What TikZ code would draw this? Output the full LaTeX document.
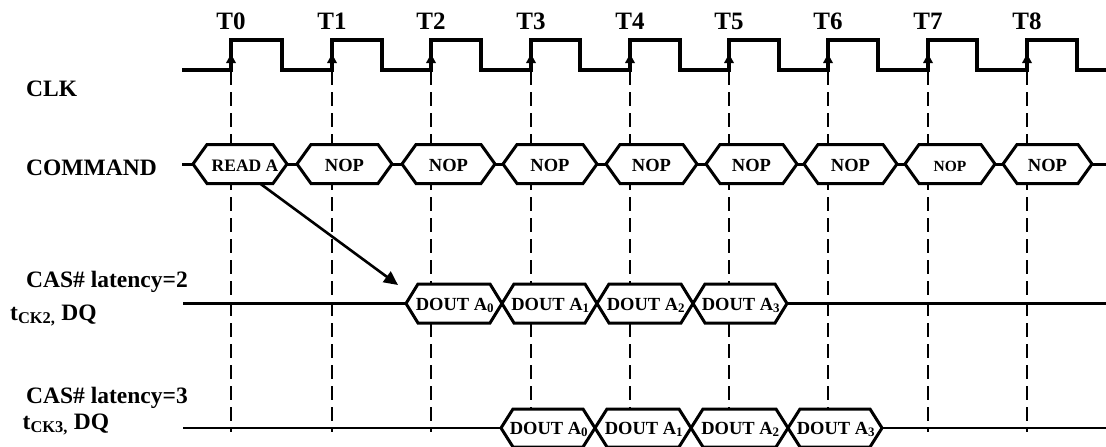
\documentclass[tikz,border=0pt]{standalone}
\usepackage{fontspec}
\setmainfont{Liberation Serif}
\usetikzlibrary{arrows.meta}
\begin{document}
\begin{tikzpicture}[x=1pt,y=-1pt,
  clkline/.style={line width=3.2pt,line join=miter},
  guide/.style={line width=1.8pt,dash pattern=on 14pt off 7pt},
  hexbox/.style={line width=3pt,fill=white,line join=miter},
  hexlink/.style={line width=3pt},
  sigline/.style={line width=2.8pt},
  tlabel/.style={font=\fontsize{25}{30}\selectfont\bfseries,anchor=base,inner sep=0pt},
  sidelabel/.style={font=\fontsize{23.5}{28}\selectfont\bfseries,anchor=base west,inner sep=0pt},
  boxtext/.style={anchor=base,inner sep=0pt},
  dqtext/.style={font=\fontsize{18.5}{22}\selectfont\bfseries,anchor=base,inner sep=0pt},
  readarrow/.style={line width=2.6pt,-{Triangle[length=14pt,width=13pt]}}
]
\useasboundingbox (0,0) rectangle (1106,447);

% vertical dashed guides and T labels
\foreach \i/\x in {0/231,1/332,2/431,3/531,4/630,5/729,6/828,7/928,8/1027}{
  \coordinate (gt\i) at (\x,71);
  \coordinate (gb\i) at (\x,432);
  \draw[guide] (gt\i) -- (gb\i);
  \node[tlabel] (t\i) at (\x,29.5) {T\i};
}

% clock waveform
\draw[clkline] (182,70)
  \foreach \r/\f in {231/282,332/382,431/481,531/580,630/680,729/779,828/878,928/977,1027/1077}
  { -- (\r,70) -- (\r,40) -- (\f,40) -- (\f,70) } -- (1106,70);
\foreach \x in {231,332,431,531,630,729,828,928,1027}
  \fill ({\x},54) -- ({\x-5},63) -- ({\x+5},63) -- cycle;

% side labels
\node[sidelabel] (lclk) at (26,96) {CLK};
\node[sidelabel] (lcmd) at (26,175) {COMMAND};
\node[sidelabel] (lcas2) at (26,287) {CAS\# latency=2};
\node[sidelabel] (ltck2) at (10,320) {t\textsubscript{CK2,} DQ};
\node[sidelabel] (lcas3) at (26,403) {CAS\# latency=3};
\node[sidelabel] (ltck3) at (22.5,429) {t\textsubscript{CK3,} DQ};

% COMMAND row
\coordinate (cmds) at (182,164);
\coordinate (cmde) at (1106,164);
\foreach \i/\L/\R/\cx/\tx/\fs in {0/193/287/245/READ A/17.5,1/297/392/344.5/NOP/18.5,2/402/495/448.5/NOP/18.5,3/503/597/550/NOP/18.5,4/606/697/651.5/NOP/18.5,5/706/797/751.5/NOP/18.5,6/804/897/850.5/NOP/18.5,7/905/995/950/NOP/15.5,8/1003/1092/1047.5/NOP/18.5}{
  \draw[hexbox] (\L,164) -- ({\L+14},144.5) -- ({\R-14},144.5) -- (\R,164)
    -- ({\R-14},183.5) -- ({\L+14},183.5) -- cycle;
  \coordinate (cl\i) at (\L,164);
  \coordinate (cr\i) at (\R,164);
  \node[boxtext,font=\fontsize{\fs}{22}\selectfont\bfseries] (c\i) at (\cx,171) {\tx};
}
\draw[hexlink] (cmds) -- (cl0);
\foreach \a/\b in {0/1,1/2,2/3,3/4,4/5,5/6,6/7,7/8}
  \draw[hexlink] (cr\a) -- (cl\b);
\draw[hexlink] (cr8) -- (cmde);

% CAS latency = 2 row
\coordinate (r2s) at (183,303.5);
\coordinate (r2e) at (1106,303.5);
\foreach \i/\L/\R in {0/406/502,1/502/597,2/597/693,3/693/787}{
  \draw[hexbox] (\L,303.5) -- ({\L+12},284) -- ({\R-12},284) -- (\R,303.5)
    -- ({\R-12},323) -- ({\L+12},323) -- cycle;
  \coordinate (dl\i) at (\L,303.5);
  \coordinate (dr\i) at (\R,303.5);
  \node[dqtext] (d\i) at ({(\L+\R)/2+1},310) {DOUT A\textsubscript{\i}};
}
\draw[sigline] (r2s) -- (dl0);
\draw[sigline] (dr3) -- (r2e);

% CAS latency = 3 row
\coordinate (r3s) at (183,428);
\coordinate (r3e) at (1106,428);
\foreach \i/\L/\R in {0/501/595,1/595/691,2/691/788,3/788/882}{
  \draw[hexbox] (\L,428) -- ({\L+12},409) -- ({\R-12},409) -- (\R,428)
    -- ({\R-12},447) -- ({\L+12},447) -- cycle;
  \coordinate (el\i) at (\L,428);
  \coordinate (er\i) at (\R,428);
  \node[dqtext] (e\i) at ({(\L+\R)/2+1},434) {DOUT A\textsubscript{\i}};
}
\draw[sigline] (r3s) -- (el0);
\draw[sigline] (er3) -- (r3e);

% READ A -> DOUT A0 arrow
\coordinate (rdtail) at (260,183.5);
\coordinate (rdtip) at (398,285);
\draw[readarrow] (rdtail) -- (rdtip);
\end{tikzpicture}
\end{document}
